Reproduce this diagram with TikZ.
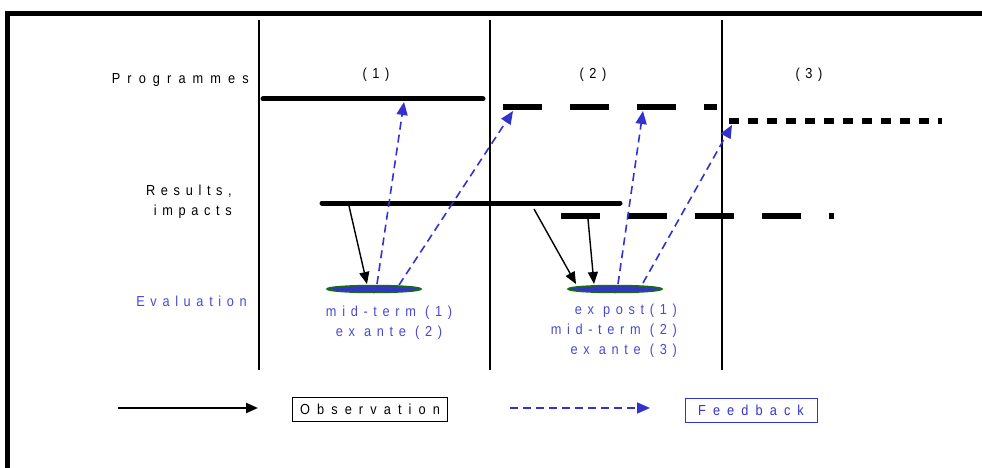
\documentclass[tikz,border=0pt]{standalone}
\usepackage{fontspec}
\setmainfont{Liberation Sans}
\newfontfamily\spacedfont[LetterSpace=39,FakeStretch=0.88]{Liberation Sans}
\newfontfamily\widefont[LetterSpace=49,FakeStretch=0.88]{Liberation Sans}
\usetikzlibrary{arrows.meta,shapes.geometric}
\definecolor{fbblue}{RGB}{51,51,204}
\definecolor{evtext}{RGB}{72,72,208}
\definecolor{evgreen}{RGB}{20,110,20}
\tikzset{
  lbl/.style={font=\spacedfont\fontsize{14.5}{20}\selectfont, inner sep=0pt},
  widelbl/.style={font=\widefont\fontsize{14.5}{20}\selectfont, inner sep=0pt},
  evlbl/.style={lbl,text=evtext},
  obs/.style={-{Triangle[length=12pt,width=10pt]},line width=1.4pt},
  feed/.style={-{Triangle[length=13pt,width=11pt]},line width=1.6pt,fbblue,dash pattern=on 8pt off 5pt},
  prog/.style={line width=5pt},
  evdot/.style={ellipse,draw=evgreen,fill=fbblue,line width=1.5pt,minimum width=94pt,minimum height=7pt,inner sep=0pt},
  legbox/.style={widelbl,draw,line width=0.8pt,minimum height=24pt}
}
\begin{document}
\begin{tikzpicture}[x=1pt,y=-1pt]
\useasboundingbox (0,0) rectangle (982,468);
% frame
\draw[line width=5pt] (7,472) -- (7,14) -- (986,14);
% periods
\foreach \xx in {259,490,722}
  \draw[line width=1.6pt] (\xx,20) -- (\xx,370);
\node[lbl] (per1) at (376,75) {(1)};
\node[lbl] (per2) at (593,75) {(2)};
\node[lbl] (per3) at (809,75) {(3)};
% row labels
\node[widelbl,anchor=east] (prog) at (249,80) {Programmes};
\node[lbl,anchor=east,align=right] (res) at (232,202) {Results,\\impacts};
\node[evlbl,anchor=east] (eval) at (247,301) {Evaluation};
% programmes
\draw[prog,line cap=round] (263,99) -- (483,99);
\draw[prog,line width=6pt,dash pattern=on 39pt off 28pt] (503,107) -- (717,107);
\draw[prog,line width=6pt,dash pattern=on 10pt off 9pt] (729,121) -- (942,121);
% results
\draw[prog,line cap=round] (322,203) -- (620,203);
\draw[prog,line width=6pt,dash pattern=on 39pt off 28pt] (561,216) -- (834,216);
% evaluation
\node[evdot] (ev1) at (374,289) {};
\node[evdot] (ev2) at (615,289) {};
\node[evlbl,align=center] (ev1txt) at (389,323) {mid-term (1)\\ex ante (2)};
\node[evlbl,align=right,anchor=east] (ev2txt) at (677,331) {ex post(1)\\mid-term (2)\\ex ante (3)};
% observation
\coordinate (r1) at (349,206);
\coordinate (r2) at (534,209);
\coordinate (r3) at (588,219);
\coordinate (e1a) at (367,284);
\coordinate (e2a) at (576,284);
\coordinate (e2b) at (594,284);
\draw[obs] (r1) -- (e1a);
\draw[obs] (r2) -- (e2a);
\draw[obs] (r3) -- (e2b);
% feedback
\coordinate (e1b) at (377,284);
\coordinate (e1c) at (399,285);
\coordinate (e2c) at (618,284);
\coordinate (e2d) at (643,283);
\coordinate (p1t) at (404,102);
\coordinate (p2t) at (513,111);
\coordinate (p2u) at (643,111);
\coordinate (p3t) at (732,125);
\draw[feed] (e1b) -- (p1t);
\draw[feed] (e1c) -- (p2t);
\draw[feed] (e2c) -- (p2u);
\draw[feed] (e2d) -- (p3t);
% legend
\coordinate (lo1) at (118,408);
\coordinate (lo2) at (258,408);
\coordinate (lf1) at (510,408);
\coordinate (lf2) at (650,408);
\draw[obs,line width=2pt] (lo1) -- (lo2);
\node[legbox,minimum width=155pt] (obsbox) at (370,409) {Observation};
\draw[feed] (lf1) -- (lf2);
\node[legbox,minimum width=132pt,draw=fbblue,text=fbblue] (fbbox) at (751,410) {Feedback};
\end{tikzpicture}
\end{document}
